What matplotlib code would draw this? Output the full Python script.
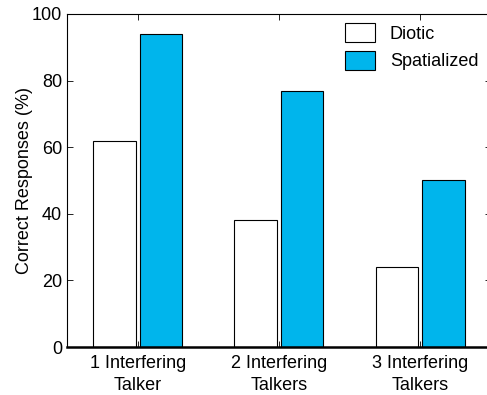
import numpy as np
import matplotlib
matplotlib.use("Agg")
import matplotlib.pyplot as plt

plt.rcParams['font.family'] = ['Liberation Sans', 'DejaVu Sans']

# data
categories = ['1 Interfering\nTalker', '2 Interfering\nTalkers', '3 Interfering\nTalkers']
diotic = [62, 38, 24]
spatialized = [94, 77, 50]

x = np.arange(1, len(categories) + 1)
w = 0.30

fig = plt.figure(figsize=(4.87, 3.95), dpi=100)
ax = fig.add_axes([0.1376, 0.1215, 0.8700, 0.8431])

ax.bar(x - 0.165, diotic, w, color='white', edgecolor='black', linewidth=0.8, label='Diotic')
ax.bar(x + 0.165, spatialized, w, color='#00b5ec', edgecolor='black', linewidth=0.8, label='Spatialized')

ax.set_xlim(0.5, 3.5)
ax.set_ylim(0, 100)
ax.set_xticks(x)
ax.set_xticklabels(categories, fontsize=13, linespacing=1.45)
ax.set_yticks([0, 20, 40, 60, 80, 100])
ax.tick_params(axis='both', direction='in', length=4, width=0.6, labelsize=13,
               top=True, right=True)
ax.tick_params(axis='x', pad=5.5)
ax.set_ylabel('Correct Responses (%)', fontsize=13, labelpad=-1)

for s in ['left', 'top', 'right']:
    ax.spines[s].set_linewidth(0.8)
ax.spines['bottom'].set_linewidth(1.8)

ax.legend(loc='upper right', bbox_to_anchor=(0.992, 1.0), frameon=False, fontsize=13,
          handlelength=1.67, handleheight=1.25, handletextpad=0.8, labelspacing=0.45,
          borderaxespad=0.1)

fig.savefig('out.png', dpi=100)
